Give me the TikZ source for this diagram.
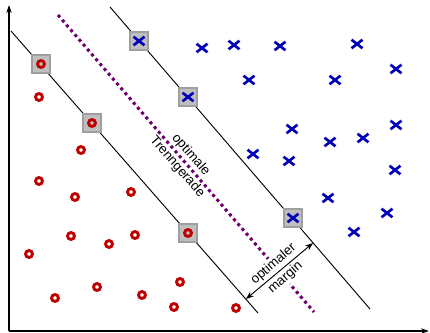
\documentclass[tikz,border=0pt]{standalone}
\usepackage{fontspec}
\setmainfont{Liberation Sans}
\usetikzlibrary{arrows.meta}
\usetikzlibrary{shapes.misc}

\definecolor{classred}{RGB}{190,0,0}
\definecolor{classblue}{RGB}{0,0,185}
\definecolor{sepcolor}{RGB}{110,0,110}

\tikzset{
  redring/.style = {draw = classred, circle, line width = 2.2pt, minimum size = 5.2pt, inner sep = 0pt},
  bluecross/.style = {draw = classblue, cross out, line width = 2pt, minimum width = 6.2pt, minimum height = 4.4pt, inner sep = 0pt},
  supvec/.style = {draw = gray!75, fill = gray!50, line width = 1pt, minimum size = 13.5pt, inner sep = 0pt},
  lbl/.style = {align = center, inner sep = 1pt, font = \fontsize{10}{13.5}\selectfont}
}

\begin{document}
\begin{tikzpicture}[x = 0.75pt, y = -0.75pt]
\useasboundingbox (0, 0) rectangle (430, 333);

% axes
\coordinate (O) at (9, 331);
\coordinate (X) at (429, 331);
\coordinate (Y) at (9, 5);
\draw[-{Stealth[length = 6pt, width = 4pt]}, line width = 0.9pt] (O) -- (Y);
\draw[-{Stealth[length = 6pt, width = 4pt]}, line width = 0.9pt] (O) -- (X);

% margin lines
\coordinate (A) at (11, 31);
\coordinate (B) at (258, 313);
\draw[line width = 0.7pt] (A) -- (B);
\coordinate (C) at (110, 7);
\coordinate (D) at (370, 309);
\draw[line width = 0.7pt] (C) -- (D);

% separating line
\coordinate (E) at (58, 15);
\coordinate (F) at (314, 312);
\draw[sepcolor, line width = 2.3pt, dash pattern = on 2.3pt off 2.5pt] (E) -- (F);
\node[lbl, rotate = -49] (T) at (184, 161) {optimale\\Trenngerade};

% margin arrow
\coordinate (M1) at (246, 299);
\coordinate (M2) at (313, 243);
\node[lbl, rotate = 41, fill = white] (M) at (279.5, 271) {optimaler\\margin};
\draw[{Stealth[length = 6pt, width = 4.5pt]}-{Stealth[length = 6pt, width = 4.5pt]}, line width = 0.7pt] (M1) -- (M2);

% support vectors
\node[supvec] (s1) at (41, 64) {};
\node[supvec] (s2) at (92, 123) {};
\node[supvec] (s3) at (188, 233) {};
\node[supvec] (s4) at (139, 41) {};
\node[supvec] (s5) at (188, 97) {};
\node[supvec] (s6) at (293, 218) {};

% class o
\node[redring] (r1) at (s1) {};
\node[redring] (r2) at (39, 97) {};
\node[redring] (r3) at (s2) {};
\node[redring] (r4) at (81, 150) {};
\node[redring] (r5) at (39, 181) {};
\node[redring] (r6) at (75, 197) {};
\node[redring] (r7) at (131, 192) {};
\node[redring] (r8) at (71, 236) {};
\node[redring] (r9) at (109, 244) {};
\node[redring] (r10) at (135, 235) {};
\node[redring] (r11) at (s3) {};
\node[redring] (r12) at (29, 254) {};
\node[redring] (r13) at (97, 287) {};
\node[redring] (r14) at (55, 298) {};
\node[redring] (r15) at (142, 295) {};
\node[redring] (r16) at (180, 282) {};
\node[redring] (r17) at (174, 307) {};
\node[redring] (r18) at (236, 308) {};

% class x
\node[bluecross] (b1) at (s4) {};
\node[bluecross] (b2) at (202, 48) {};
\node[bluecross] (b3) at (234, 45) {};
\node[bluecross] (b4) at (280, 46) {};
\node[bluecross] (b5) at (357, 44) {};
\node[bluecross] (b6) at (249, 80) {};
\node[bluecross] (b7) at (335, 80) {};
\node[bluecross] (b8) at (396, 69) {};
\node[bluecross] (b9) at (s5) {};
\node[bluecross] (b10) at (292, 129) {};
\node[bluecross] (b11) at (253, 154) {};
\node[bluecross] (b12) at (289, 161) {};
\node[bluecross] (b13) at (330, 142) {};
\node[bluecross] (b14) at (363, 138) {};
\node[bluecross] (b15) at (396, 125) {};
\node[bluecross] (b16) at (395, 170) {};
\node[bluecross] (b17) at (328, 198) {};
\node[bluecross] (b18) at (387, 213) {};
\node[bluecross] (b19) at (s6) {};
\node[bluecross] (b20) at (354, 232) {};

\end{tikzpicture}
\end{document}
